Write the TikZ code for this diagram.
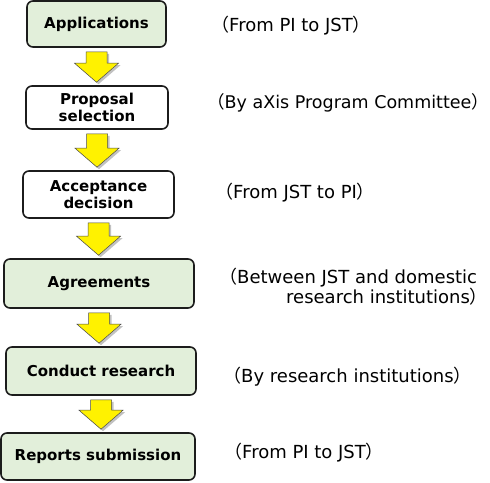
\documentclass[tikz,border=0pt]{standalone}
\usepackage{fontspec}
\setmainfont{DejaVu Sans}
\newfontfamily\jpfont{Noto Sans CJK JP}
\usetikzlibrary{calc,shadows}
\definecolor{stagegreen}{HTML}{E2EFDA}
\definecolor{stageline}{HTML}{1C1C1C}
\newcommand{\stagearrow}[2]{%
  \coordinate (tip) at ([yshift=3pt]#1.south |- #2.north);
  \draw[blockarrow] ($(#1.south)+(-10.5,4)$) -- ($(#1.south)+(10.5,4)$)
    -- ($(tip)+(10.5,-19)$) -- ($(tip)+(22,-19)$) -- (tip)
    -- ($(tip)+(-22,-19)$) -- ($(tip)+(-10.5,-19)$) -- cycle;}
\begin{document}
\begin{tikzpicture}[x=1pt,y=-1pt,
    stagebox/.style={draw=stageline,line width=1.6pt,rounded corners=6pt,fill=white,
      align=center,inner sep=0pt,font=\fontsize{15}{17}\selectfont\bfseries},
    greenbox/.style={stagebox,fill=stagegreen},
    blockarrow/.style={draw=black!70,line width=0.5pt,fill=yellow,line join=miter,
      drop shadow={shadow xshift=2pt,shadow yshift=-2pt,fill=black!40,opacity=0.6}},
    note/.style={inner sep=0pt,anchor=west,font=\fontsize{18}{18}\selectfont}]
  \useasboundingbox (0,0) rectangle (490,482);
  \fill[white] (0,0) rectangle (490,482);
  % stages
  \node[greenbox,minimum width=139pt,minimum height=46pt] (app) at (96.5,24) {Applications};
  \node[stagebox,minimum width=142pt,minimum height=43pt] (sel) at (97,107.5) {Proposal\\selection};
  \node[stagebox,minimum width=151pt,minimum height=47pt] (acc) at (98.5,194.5) {Acceptance\\decision};
  \node[greenbox,minimum width=190pt,minimum height=49pt] (agr) at (99,283.5) {Agreements};
  \node[greenbox,minimum width=190pt,minimum height=48pt] (con) at (101,371) {Conduct research};
  \node[greenbox,minimum width=194pt,minimum height=47pt] (rep) at (98,456.5) {Reports submission};
  % arrows
  \stagearrow{app}{sel}
  \stagearrow{sel}{acc}
  \stagearrow{acc}{agr}
  \stagearrow{agr}{con}
  \stagearrow{con}{rep}
  % notes
  \node[note] (n1) at (211,26) {{\jpfont （}From PI to JST{\jpfont ）}};
  \node[note,font=\fontsize{17.5}{18}\selectfont] (n2) at (207,103) {{\jpfont （}By aXis Program Committee{\jpfont ）}};
  \node[note] (n3) at (215,193) {{\jpfont （}From JST to PI{\jpfont ）}};
  \node[note,align=left] (n4) at (219,287) {{\jpfont （}Between JST and domestic\\\hspace*{67pt}research institutions{\jpfont ）}};
  \node[note] (n5) at (223,377) {{\jpfont （}By research institutions{\jpfont ）}};
  \node[note] (n6) at (224,453) {{\jpfont （}From PI to JST{\jpfont ）}};
\end{tikzpicture}
\end{document}
